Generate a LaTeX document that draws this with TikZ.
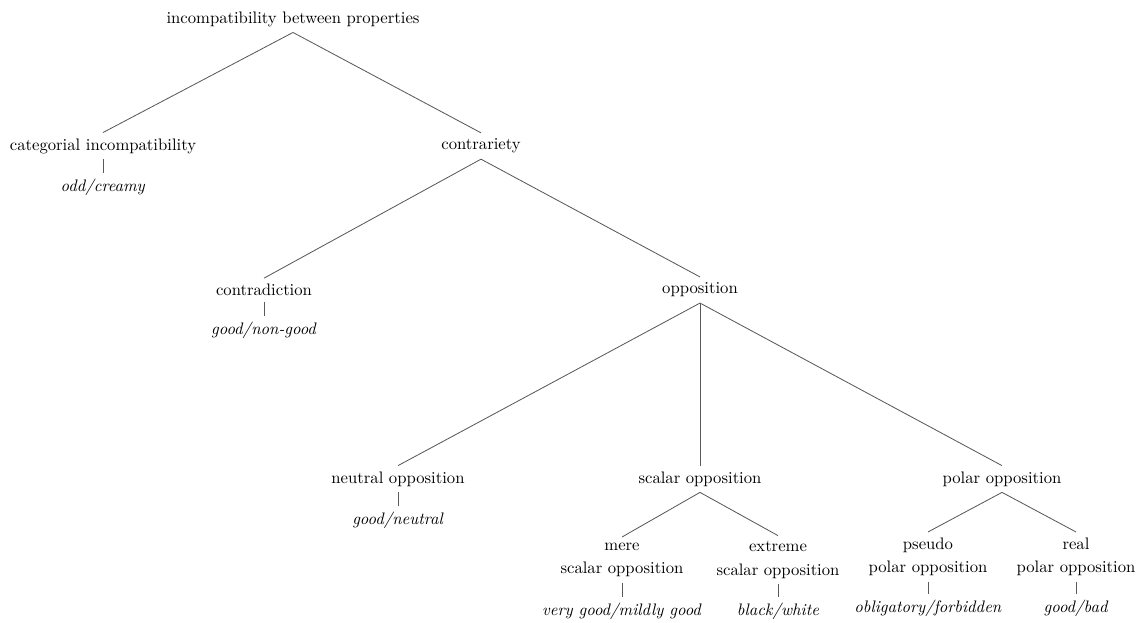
\documentclass[tikz,border=0pt]{standalone}
\usepackage{amssymb,amsmath}
\usepackage{tikz}
\usepackage{xcolor}
\usetikzlibrary{positioning}

\begin{document}
\begin{tikzpicture}[x=0.6pt,y=-0.6pt,draw=black!65,line width=0.5pt]
\useasboundingbox (0,0) rectangle (1140,622);

\node (1) at (293,19){incompatibility between properties};
\node (2) at (103,146){categorial incompatibility};
\node (3) at (103,187){\textit{odd/creamy}};
\node (4) at (481,146){contrariety};
\node (5) at (264,290){contradiction};
\node (6) at (264,330){\textit{good/non-good}};
\node (7) at (700,290){opposition};
\node (8) at (398,479){neutral opposition};
\node (9) at (398,520){\textit{good/neutral}};
\node (10) at (700,479){scalar opposition};
\node (11) at (1002,479){polar opposition};
\node[align=center] (12) at (622,560){mere\\[2pt]scalar opposition};
\node (13) at (622,611){\textit{very good/mildly good}};
\node[align=center] (14) at (778,560){extreme\\[2pt]scalar opposition};
\node (15) at (778,611){\textit{black/white}};
\node[align=center] (16) at (928,557){pseudo\\[2pt]polar opposition};
\node (17) at (928,608){\textit{obligatory/forbidden}};
\node[align=center] (18) at (1076,557){real\\[2pt]polar opposition};
\node (19) at (1076,608){\textit{good/bad}};
\draw (1.south) -- (2.north);
\draw (1.south) -- (4.north);
\draw (2.south) -- (3.north);
\draw (4.south) -- (5.north);
\draw (4.south) -- (7.north);
\draw (5.south) -- (6.north);
\draw (7.south) -- (8.north);
\draw (7.south) -- (10.north);
\draw (7.south) -- (11.north);
\draw (8.south) -- (9.north);
\draw (10.south) -- (12.north);
\draw (10.south) -- (14.north);
\draw (12.south) -- (13.north);
\draw (14.south) -- (15.north);
\draw (11.south) -- (16.north);
\draw (11.south) -- (18.north);
\draw (16.south) -- (17.north);
\draw (18.south) -- (19.north);

\end{tikzpicture}
\end{document}
